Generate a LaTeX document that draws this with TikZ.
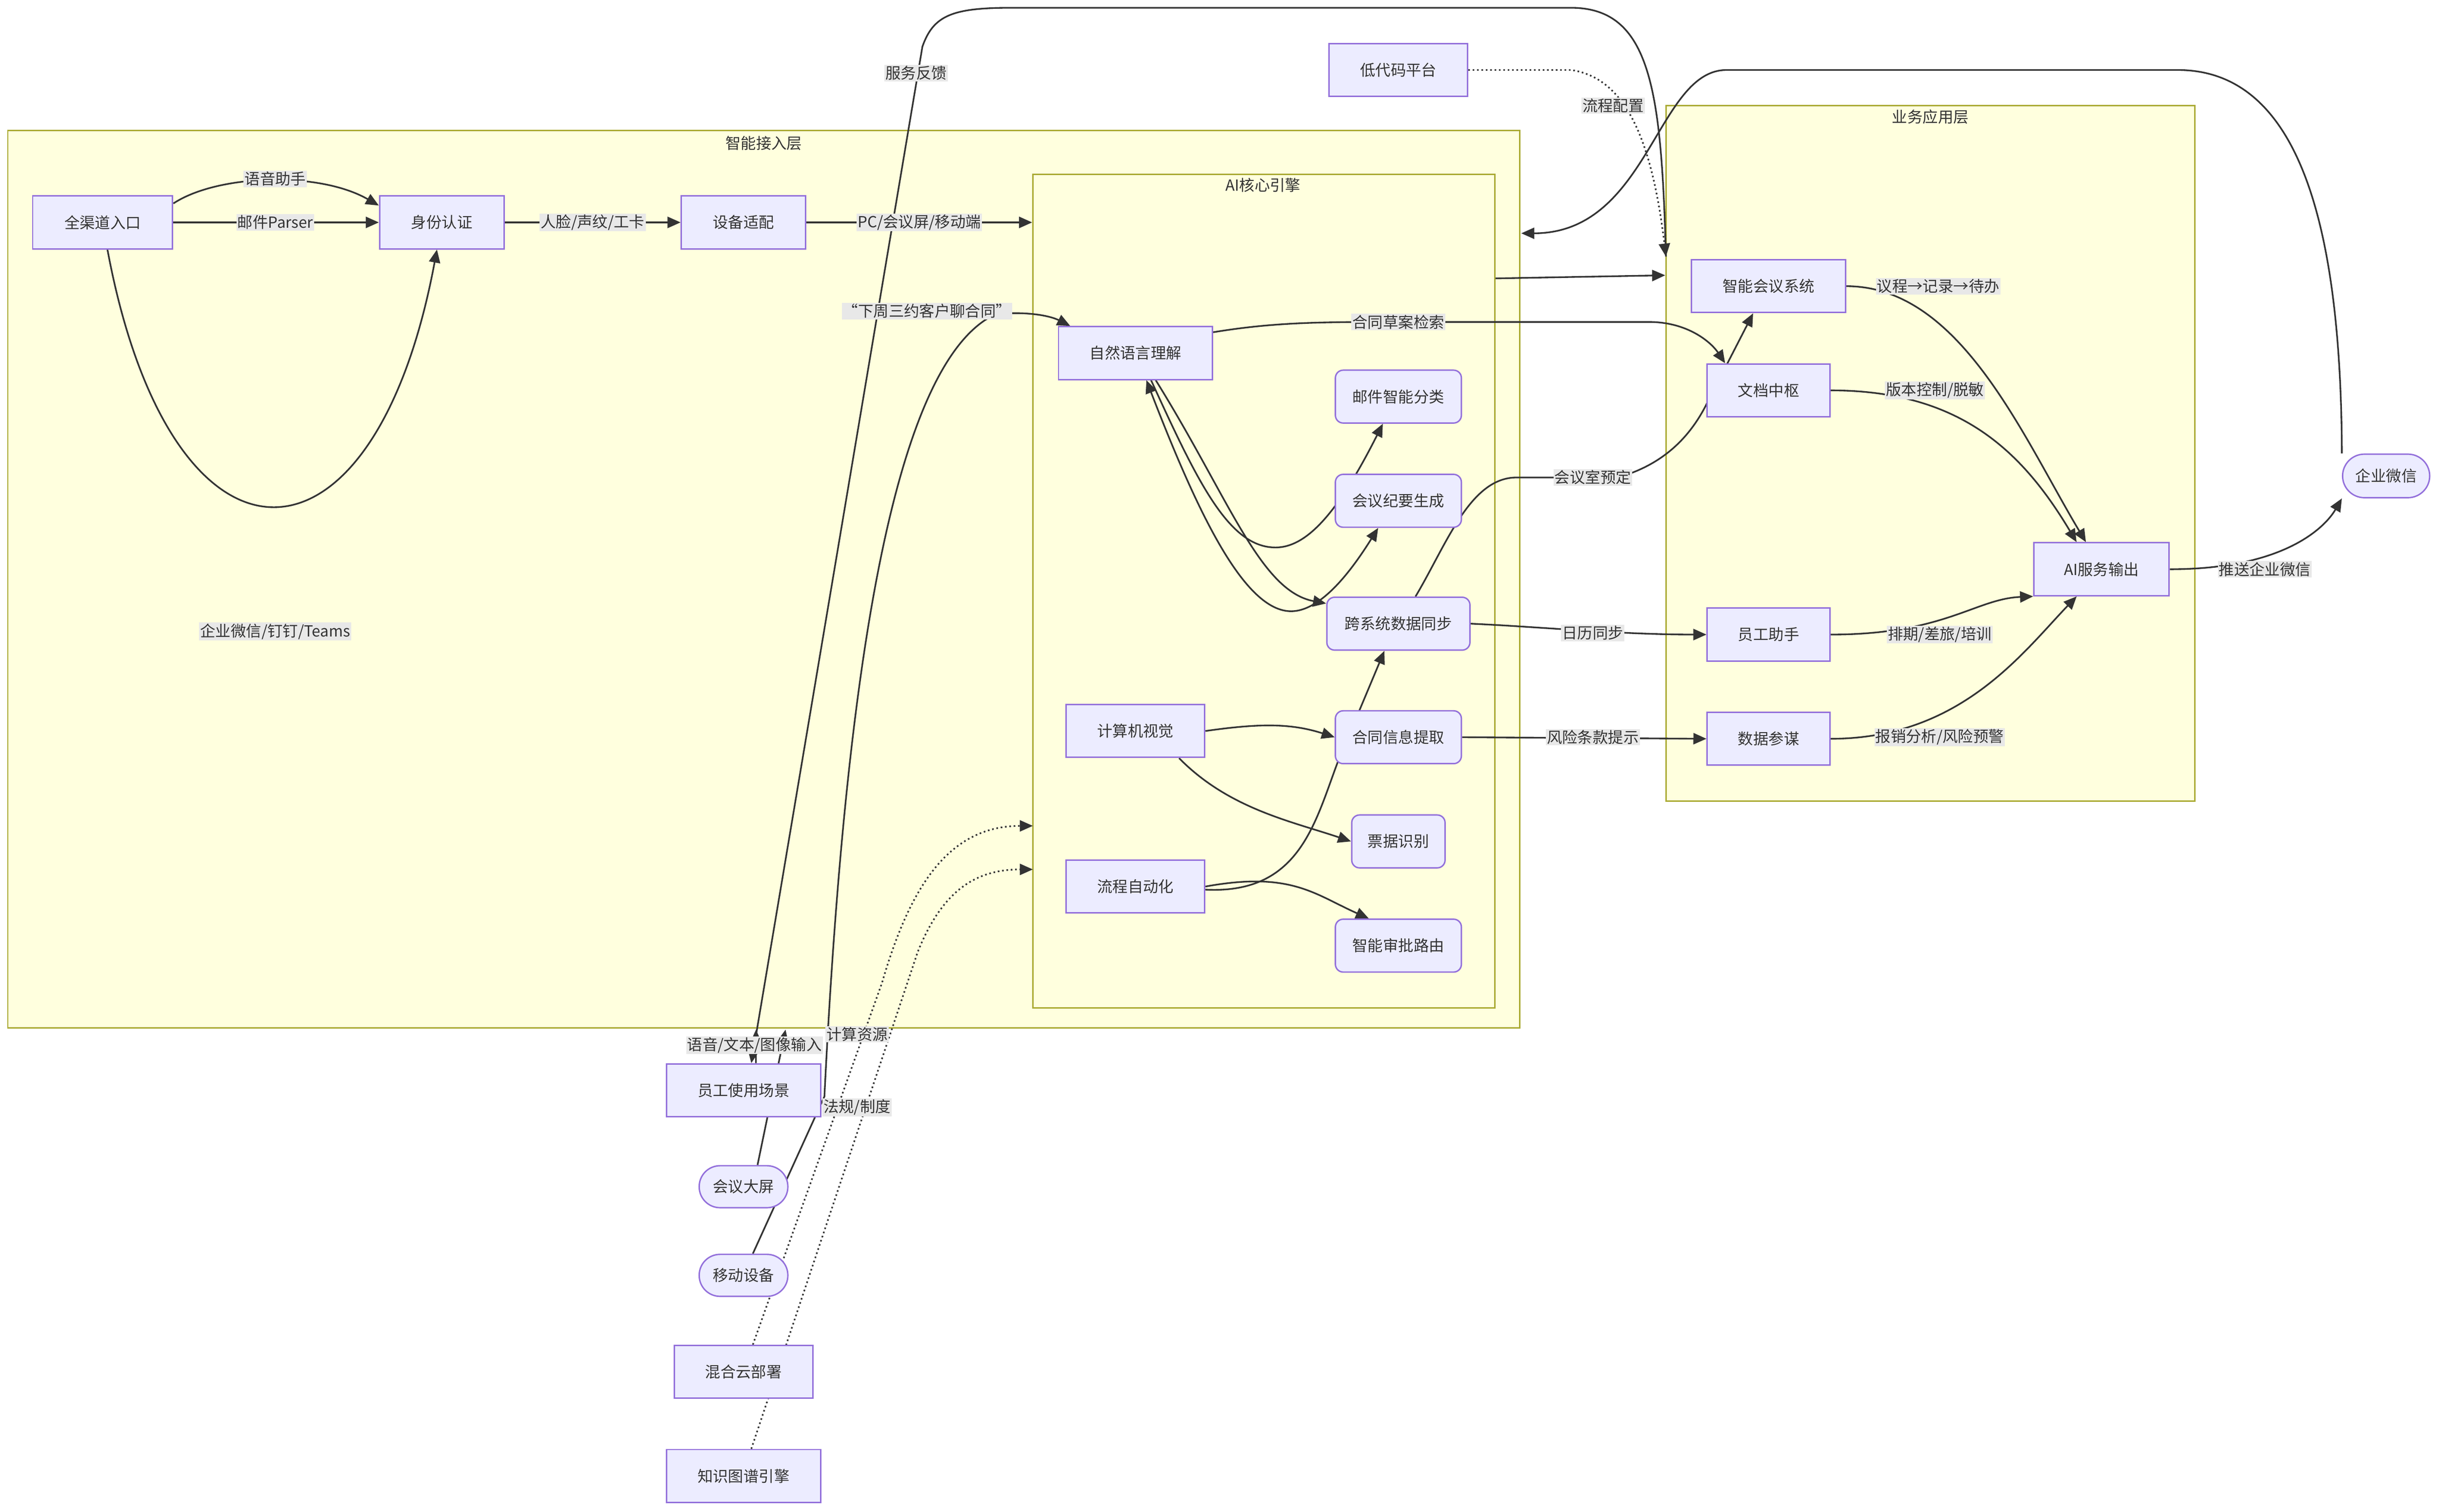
\documentclass[tikz,border=0pt]{standalone}
\usepackage{fontspec}
\setmainfont{Noto Sans CJK SC}
\usetikzlibrary{arrows.meta}
\definecolor{nfill}{HTML}{ECECFF}
\definecolor{nline}{HTML}{9370DB}
\definecolor{cfill}{HTML}{FFFFDE}
\definecolor{cline}{HTML}{AAAA33}
\definecolor{txt}{HTML}{333333}
\definecolor{lbg}{HTML}{E8E8E8}
\pgfdeclarelayer{bg}\pgfdeclarelayer{edges}\pgfsetlayers{bg,edges,main}
\begin{document}
\begin{tikzpicture}[x=0.05cm,y=-0.05cm,
  font=\fontsize{14}{16}\selectfont, text=txt,
  box/.style={draw=nline,fill=nfill,line width=1.3pt,minimum height=1.7cm,inner sep=0pt},
  rbox/.style={box,rounded corners=0.25cm},
  pill/.style={box,minimum height=1.35cm,rounded corners=0.67cm},
  clus/.style={draw=cline,fill=cfill,line width=1.3pt,inner sep=0pt},
  ctitle/.style={inner sep=0pt},
  lbl/.style={fill=lbg,inner sep=1pt},
  e/.style={draw=txt,line width=1.5pt},
  arr/.style={e,-{Triangle[length=0.42cm,width=0.36cm]}},
  dot/.style={arr,dash pattern=on 1.5pt off 2.5pt}]
\useasboundingbox (0,0) rectangle (1568,972);
\begin{pgfonlayer}{bg}
\node[clus,minimum width=48.6cm,minimum height=28.85cm] (acc) at (491,372.5) {};
\node[clus,minimum width=14.85cm,minimum height=26.8cm] (ai) at (812.5,380) {};
\node[clus,minimum width=17cm,minimum height=22.35cm] (biz) at (1241,291.5) {};
\end{pgfonlayer}
\node[ctitle] (t1) at (491,92) {智能接入层};
\node[ctitle] (t2) at (812,119) {AI核心引擎};
\node[ctitle] (t3) at (1241,75) {业务应用层};
% nodes
\node[box,minimum width=4.5cm] (qq) at (66,143) {全渠道入口};
\node[box,minimum width=4cm] (sf) at (284,143) {身份认证};
\node[box,minimum width=4cm] (sb) at (478,143) {设备适配};
\node[box,minimum width=4.95cm] (nlu) at (730,227) {自然语言理解};
\node[rbox,minimum width=4.05cm] (yj) at (899,255) {邮件智能分类};
\node[rbox,minimum width=4.05cm] (jy) at (899,322) {会议纪要生成};
\node[rbox,minimum width=4.6cm] (kx) at (899,401) {跨系统数据同步};
\node[box,minimum width=4.45cm] (cv) at (730,470) {计算机视觉};
\node[rbox,minimum width=4.05cm] (ht) at (899,474) {合同信息提取};
\node[rbox,minimum width=3cm] (pj) at (899,541) {票据识别};
\node[box,minimum width=4.45cm] (lc) at (730,570) {流程自动化};
\node[rbox,minimum width=4.05cm] (sp) at (899,608) {智能审批路由};
\node[box,minimum width=4.45cm] (dd) at (899,45) {低代码平台};
\node[box,minimum width=4.95cm] (zh) at (1137,184) {智能会议系统};
\node[box,minimum width=3.95cm] (wz) at (1137,251) {文档中枢};
\node[box,minimum width=3.95cm] (yg) at (1137,408) {员工助手};
\node[box,minimum width=3.95cm] (sj) at (1137,475) {数据参谋};
\node[box,minimum width=4.35cm] (ao) at (1351,366) {AI服务输出};
\node[pill,minimum width=2.8cm,minimum height=1.4cm,rounded corners=0.7cm] (qw) at (1534,306) {企业微信};
\node[box,minimum width=4.95cm] (ys) at (478,701) {员工使用场景};
\node[pill,minimum width=2.85cm] (dp) at (478,763) {会议大屏};
\node[pill,minimum width=2.85cm] (yd) at (478,820) {移动设备};
\node[box,minimum width=4.45cm] (yun) at (478,882) {混合云部署};
\node[box,minimum width=4.95cm] (zs) at (478,949) {知识图谱引擎};
\coordinate (accR) at (978,150);
\coordinate (accB1) at (486,662);
\coordinate (accB2) at (505,662);
\coordinate (aiL1) at (664,531);
\coordinate (aiL2) at (664,559);
\coordinate (bizT) at (1071,165);
% edges
\begin{pgfonlayer}{edges}
\draw[arr] (qq.15) .. controls (140,112) and (205,110) .. (sf.165);
\draw[arr] (qq.east) -- (sf.west);
\draw[arr] (qq.-80) .. controls (110,380) and (240,380) .. (sf.-100);
\draw[arr] (sf.east) -- (sb.west);
\draw[arr] (sb.east) -- (ai.west |- sb.east);
\draw[arr] (ai.east |- 0,179) -- (biz.west |- 0,177);
\draw[arr] (qw.north west) .. controls (1505,150) and (1480,45) .. (1400,45) -- (1110,45) .. controls (1065,45) and (1060,150) .. (accR);
\draw[arr] (bizT) .. controls (1068,60) and (1062,5) .. (1010,5) -- (650,5) .. controls (612,5) and (600,10) .. (593,30) -- ([xshift=0.25cm]ys.north);
\draw[dot] (dd.east) -- (1010,45) .. controls (1045,50) and (1062,90) .. (bizT);
\draw[arr] ([xshift=0.3cm]yd.north) -- (530,705) .. controls (545,400) and (580,230) .. (640,202) .. controls (660,200) and (675,203) .. ([xshift=-2.1cm]nlu.north);
\draw[arr] (dp.north) ++(9,0) -- (accB2);
\draw[arr] ([xshift=0.4cm]ys.north) -- (accB1);
\draw[dot] ([xshift=0.3cm]yun.north) -- (567,632) .. controls (585,570) and (610,531) .. (aiL1);
\draw[dot] ([xshift=0.25cm]zs.north) -- (590,612) .. controls (605,575) and (625,559) .. (aiL2);
\draw[arr] (nlu.15) .. controls (820,207) and (850,207) .. (900,207) -- (1060,207) .. controls (1085,207) and (1100,220) .. ([xshift=0.6cm]wz.north west);
\draw[arr] ([xshift=0.55cm]kx.north) .. controls (930,350) and (945,307) .. (975,307) -- (1040,307) .. controls (1065,300) and (1085,285) .. (1098,258) -- ([xshift=2cm]zh.south west);
\draw[arr] (kx.east) .. controls (990,403) and (1040,408) .. (yg.west);
\draw[arr] (cv.east) .. controls (810,465) and (830,465) .. (ht.west);
\draw[arr] ([xshift=1.4cm]cv.south) .. controls (790,520) and (830,528) .. (pj.west);
\draw[arr] (ht.east) -- (sj.west);
\draw[arr] (lc.east) .. controls (830,560) and (845,575) .. ([xshift=-3cm]sp.north east);
\draw[arr] ([yshift=-0.1cm]lc.east) .. controls (835,575) and (845,530) .. (860,490) -- ([xshift=-0.45cm]kx.south);
\draw[arr] ([xshift=0.65cm]nlu.south) .. controls (790,320) and (810,380) .. (kx.west |- 0,388);
\draw[arr] ([xshift=0.5cm]nlu.south) .. controls (770,310) and (790,352) .. (820,352) .. controls (840,352) and (860,330) .. ([xshift=-0.5cm]yj.south);
\draw[{Triangle[length=0.42cm,width=0.36cm]}-{Triangle[length=0.42cm,width=0.36cm]},e] ([xshift=0.35cm]nlu.south) .. controls (770,330) and (800,393) .. (830,393) .. controls (850,393) and (870,365) .. ([xshift=-0.65cm]jy.south);
\draw[arr] (zh.east) .. controls (1260,184) and (1300,280) .. ([xshift=-0.5cm]ao.north);
\draw[arr] (wz.east) .. controls (1260,251) and (1300,290) .. ([xshift=-0.8cm]ao.north);
\draw[arr] (yg.east) .. controls (1250,408) and (1270,385) .. (ao.south west);
\draw[arr] (sj.east) .. controls (1260,475) and (1300,420) .. ([xshift=1.4cm]ao.south west);
\draw[arr] (ao.east) .. controls (1480,366) and (1500,330) .. (qw.south west);
\end{pgfonlayer}
% labels
\node[lbl] (l1) at (177,115) {语音助手};
\node[lbl] (l2) at (177,143) {邮件Parser};
\node[lbl] (l3) at (177,406) {企业微信/钉钉/Teams};
\node[lbl] (l4) at (381,143) {人脸/声纹/工卡};
\node[lbl] (l5) at (591,143) {PC/会议屏/移动端};
\node[lbl] (l6) at (596,200) {“下周三约客户聊合同”};
\node[lbl] (l7) at (589,47) {服务反馈};
\node[lbl] (l8) at (1037,68) {流程配置};
\node[lbl] (l9) at (485,672) {语音/文本/图像输入};
\node[lbl] (l10) at (551,665) {计算资源};
\node[lbl] (l11) at (551,712) {法规/制度};
\node[lbl] (l12) at (899,207) {合同草案检索};
\node[lbl] (l13) at (1024,307) {会议室预定};
\node[lbl] (l14) at (1024,407) {日历同步};
\node[lbl] (l15) at (1024,474) {风险条款提示};
\node[lbl] (l16) at (1246,184) {议程→记录→待办};
\node[lbl] (l17) at (1244,251) {版本控制/脱敏};
\node[lbl] (l18) at (1247,408) {排期/差旅/培训};
\node[lbl] (l19) at (1247,474) {报销分析/风险预警};
\node[lbl] (l20) at (1456,366) {推送企业微信};
\end{tikzpicture}
\end{document}
